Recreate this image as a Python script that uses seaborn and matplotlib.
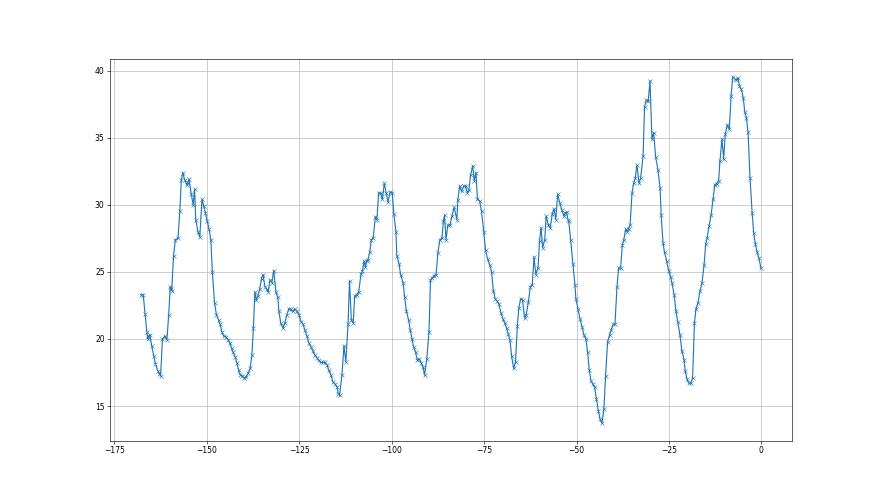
import matplotlib
matplotlib.use("Agg")
import matplotlib.pyplot as plt
import seaborn as sns
import pandas as pd

hours = [
    -167.8, -167.2, -166.7, -166.2, -165.9, -165.8, -165.4, -164.9, -164.3, -163.9,
    -163.2, -162.8, -162.5, -162.0, -161.4, -160.8, -160.3, -159.9, -159.6, -159.5,
    -159.0, -158.5, -157.8, -157.3, -156.9, -156.5, -156.0, -155.4, -155.1, -154.8,
    -154.2, -153.7, -153.3, -153.0, -152.4, -151.9, -151.3, -150.8, -150.4, -149.9,
    -149.4, -148.9, -148.5, -147.9, -147.4, -146.8, -146.4, -145.9, -145.4, -144.8,
    -144.3, -143.8, -143.3, -142.9, -142.3, -141.85, -141.4, -140.9, -140.4, -139.9,
    -139.35, -138.8, -138.3, -137.8, -137.4, -137.0, -136.6, -136.2, -135.7, -135.2,
    -134.8, -134.3, -133.8, -133.4, -132.9, -132.4, -131.9, -131.3, -130.8, -130.5,
    -130.0, -129.4, -128.9, -128.35, -127.8, -127.3, -126.7, -126.2, -125.6, -125.1,
    -124.5, -124.0, -123.5, -122.9, -122.4, -121.8, -121.3, -120.8, -120.2, -119.7,
    -119.2, -118.6, -118.1, -117.5, -117.0, -116.4, -115.9, -115.35, -114.8, -114.45,
    -114.1, -113.45, -112.9, -112.4, -111.8, -111.4, -110.9, -110.4, -110.0, -109.5,
    -108.9, -108.3, -107.9, -107.5, -107.1, -106.8, -106.4, -105.9, -105.5, -105.0,
    -104.4, -104.0, -103.5, -103.0, -102.5, -102.0, -101.5, -101.0, -100.4, -99.85,
    -99.4, -98.85, -98.6, -98.0, -97.6, -96.9, -96.5, -96.0, -95.4, -95.0,
    -94.5, -94.07, -93.5, -93.1, -92.5, -92.0, -91.5, -91.1, -90.5, -89.9,
    -89.5, -89.0, -88.6, -88.0, -87.5, -86.95, -86.4, -86.0, -85.7, -85.3,
    -84.8, -84.2, -83.7, -83.1, -82.35, -82.1, -81.6, -81.1, -80.5, -80.0,
    -79.55, -79.1, -78.65, -78.1, -77.65, -77.2, -76.8, -76.2, -75.7, -75.1,
    -74.6, -74.05, -73.5, -72.96, -72.5, -71.97, -71.4, -71.0, -70.4, -69.9,
    -69.45, -68.9, -68.5, -68.0, -67.55, -67.0, -66.5, -66.0, -65.6, -65.1,
    -64.6, -64.04, -63.6, -63.04, -62.5, -61.96, -61.5, -61.0, -60.4, -60.0,
    -59.6, -59.16, -58.6, -58.2, -57.6, -57.1, -56.55, -56.1, -55.6, -55.1,
    -54.5, -53.95, -53.4, -53.04, -52.7, -52.3, -52.1, -51.6, -50.97, -50.43,
    -50.16, -49.6, -49.07, -48.5, -48.0, -47.45, -47.0, -46.55, -46.1, -45.56,
    -45.1, -44.6, -44.1, -43.6, -43.12, -42.6, -42.13, -41.6, -41.05, -40.6,
    -40.05, -39.6, -39.06, -38.6, -38.07, -37.6, -37.2, -36.7, -36.3, -35.9,
    -35.5, -35.0, -34.55, -34.1, -33.65, -33.1, -32.66, -32.0, -31.6, -31.1,
    -30.6, -30.13, -29.6, -29.14, -28.6, -27.97, -27.4, -27.1, -26.6, -26.2,
    -25.6, -25.08, -24.5, -24.2, -23.6, -23.1, -22.6, -22.0, -21.5, -20.9,
    -20.6, -20.1, -19.67, -19.1, -18.6, -18.1, -17.7, -17.14, -16.6, -16.06,
    -15.5, -15.07, -14.7, -14.17, -13.6, -13.1, -12.6, -12.1, -11.55, -11.2,
    -10.65, -10.2, -9.75, -9.2, -8.67, -8.2, -7.76, -7.2, -6.77, -6.3,
    -5.96, -5.4, -4.88, -4.5, -4.07, -3.6, -3.07, -2.5, -2.08, -1.63,
    -1.18, -0.64, -0.1,
]

values = [
    23.3, 23.3, 21.85, 20.5, 20.0, 20.2, 20.3, 19.5, 18.7, 18.15,
    17.6, 17.4, 17.25, 20.0, 20.2, 19.95, 21.8, 23.9, 23.7, 23.6,
    26.2, 27.4, 27.5, 29.5, 31.85, 32.4, 31.85, 31.5, 31.65, 31.9,
    30.8, 30.0, 31.15, 28.9, 28.0, 27.6, 30.4, 29.9, 29.4, 28.8,
    28.2, 27.4, 25.0, 22.7, 21.8, 21.4, 21.1, 20.5, 20.2, 20.15,
    19.95, 19.7, 19.3, 19.0, 18.65, 18.2, 17.65, 17.3, 17.25, 17.07,
    17.2, 17.45, 17.8, 18.8, 20.8, 23.5, 22.9, 23.2, 23.7, 24.5,
    24.8, 23.9, 23.7, 23.5, 24.4, 24.2, 25.1, 23.5, 23.1, 22.05,
    21.2, 20.8, 21.2, 21.8, 22.25, 22.2, 22.05, 22.25, 22.05, 21.8,
    21.3, 21.1, 20.7, 20.2, 19.7, 19.4, 19.1, 18.8, 18.6, 18.4,
    18.25, 18.25, 18.25, 18.07, 17.65, 17.3, 16.8, 16.65, 16.45, 15.9,
    15.8, 17.3, 19.5, 18.3, 21.1, 24.3, 21.4, 21.2, 23.2, 23.3,
    23.5, 24.85, 25.05, 25.8, 25.35, 25.8, 25.9, 26.5, 27.4, 27.5,
    29.1, 28.9, 30.9, 30.85, 30.4, 31.6, 30.9, 30.2, 30.95, 30.9,
    29.3, 28.0, 26.2, 25.6, 24.8, 24.2, 23.1, 22.05, 21.4, 20.7,
    20.0, 19.4, 19.0, 18.45, 18.5, 18.2, 17.9, 17.3, 18.5, 20.5,
    24.4, 24.55, 24.7, 24.8, 26.4, 27.4, 27.5, 28.8, 29.2, 27.4,
    28.5, 28.5, 29.15, 29.8, 28.9, 30.35, 31.4, 31.0, 31.4, 31.4,
    30.9, 31.1, 32.2, 32.9, 31.8, 32.4, 30.4, 30.3, 29.5, 28.0,
    26.6, 25.97, 25.54, 24.97, 23.6, 22.97, 22.8, 22.6, 21.9, 21.5,
    21.2, 20.8, 20.4, 19.9, 18.7, 17.8, 18.3, 21.0, 22.3, 23.0,
    22.9, 21.56, 21.8, 22.73, 23.9, 24.05, 26.1, 24.8, 25.3, 27.3,
    28.3, 26.8, 27.4, 29.15, 28.5, 28.3, 29.3, 29.7, 28.9, 30.8,
    30.1, 29.6, 29.15, 29.4, 29.45, 28.9, 28.8, 27.4, 25.6, 24.05,
    22.98, 22.2, 21.5, 20.9, 20.3, 20.0, 19.0, 17.7, 16.9, 16.63,
    16.4, 15.5, 14.66, 14.0, 13.72, 14.76, 17.25, 19.77, 20.3, 20.7,
    21.1, 21.1, 23.87, 25.3, 25.3, 27.0, 27.4, 28.2, 28.0, 28.2,
    28.5, 30.85, 31.6, 32.0, 32.96, 31.6, 32.0, 33.6, 37.3, 37.8,
    37.7, 39.24, 34.9, 35.38, 33.56, 32.6, 31.27, 29.2, 27.16, 26.46,
    25.8, 25.1, 24.6, 24.2, 23.3, 22.06, 21.27, 20.27, 19.1, 18.45,
    17.6, 17.0, 16.71, 16.71, 17.1, 21.2, 22.2, 22.7, 23.56, 24.18,
    25.5, 27.04, 27.5, 28.4, 29.23, 30.4, 31.5, 31.57, 31.8, 33.27,
    34.9, 33.4, 35.3, 35.96, 35.63, 38.07, 39.54, 39.37, 39.3, 39.45,
    38.87, 38.6, 37.93, 36.93, 36.5, 35.4, 32.0, 29.41, 27.9, 27.1,
    26.5, 26.0, 25.25,
]

df = pd.DataFrame({"hours": hours, "value": values})

fig, ax = plt.subplots(figsize=(16, 9), dpi=55)
sns.lineplot(data=df, x="hours", y="value", marker="x", sort=False,
             estimator=None, color="#1f77b4", linewidth=1.5,
             markersize=6, markeredgecolor="#1f77b4", ax=ax)
ax.grid(True)
ax.set_xlabel("")
ax.set_ylabel("")
fig.savefig("out.png", dpi=55)
